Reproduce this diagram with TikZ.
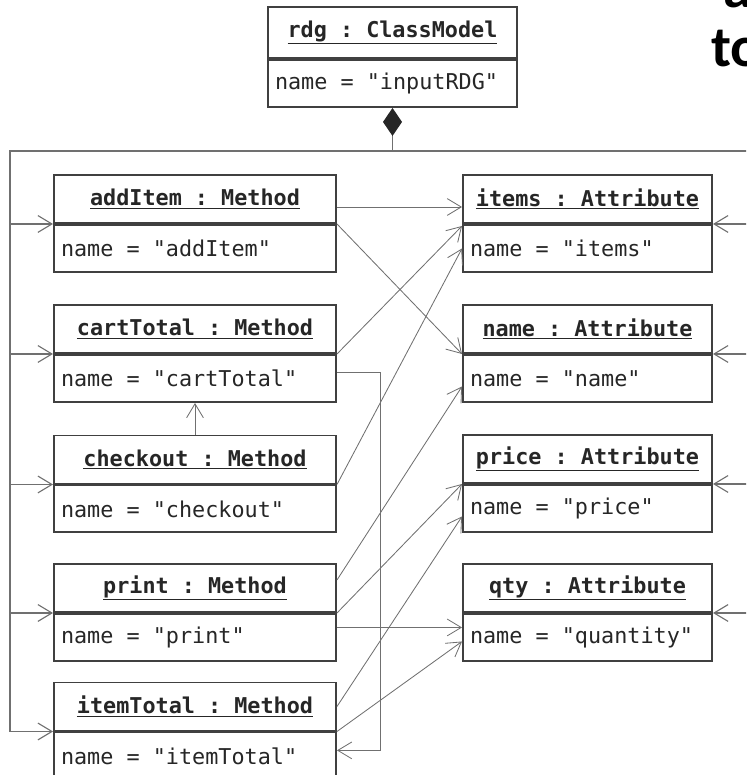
\documentclass[tikz,border=0pt]{standalone}
\usepackage{fontspec}
\setmonofont{DejaVu Sans Mono}
\newfontfamily\slidefont{Carlito}
\usetikzlibrary{positioning,arrows.meta}
\definecolor{boxline}{HTML}{404040}
\definecolor{wire}{HTML}{707070}
\definecolor{ink}{HTML}{262626}
\begin{document}
\begin{tikzpicture}[>={Straight Barb[length=3.5mm,width=4.2mm]}]
  \tikzstyle{objhead}=[draw=boxline,line width=1.4pt,fill=white,inner xsep=1.75mm,minimum height=1.2cm,text=ink,font=\ttfamily\bfseries\fontsize{15.5}{18}\selectfont]
  \tikzstyle{objbody}=[draw=boxline,line width=1.4pt,fill=white,inner xsep=1.75mm,minimum height=1.175cm,text=ink,font=\ttfamily\fontsize{15.5}{18}\selectfont]
  \tikzstyle{conn}=[draw=wire,line width=0.6pt,->]
  \tikzstyle{bus}=[draw=wire,line width=0.8pt]
  \def\xm{4.875}	% x of method boxes
  \def\xa{14.6875}	% x of attribute boxes
  \def\mw{7.05cm}	% width of method boxes
  \def\aw{6.225cm}	% width of attribute boxes
  \def\mname#1{\makebox[6.7cm][l]{#1}}	% left aligned slot, methods
  \def\aname#1{\makebox[5.875cm][l]{#1}}	% left aligned slot, attributes
  \useasboundingbox (0,0) rectangle (18.65,-19.375);
  \clip (0,0) rectangle (18.65,-19.375);
  % model
  \node[objhead,minimum width=\aw,minimum height=1.275cm] (rdg) at (9.8125,-0.8125) {\underline{rdg : ClassModel}};
  \node[objbody,below=0pt of rdg] (rdgB) {\aname{name = "inputRDG"}};
  % methods
  \node[objhead,minimum width=\mw] (mAdd) at (\xm,-4.975) {\underline{addItem : Method}};
  \node[objbody,below=0pt of mAdd] (mAddB) {\mname{name = "addItem"}};
  \node[objhead,minimum width=\mw] (mCart) at (\xm,-8.225) {\underline{cartTotal : Method}};
  \node[objbody,below=0pt of mCart] (mCartB) {\mname{name = "cartTotal"}};
  \node[objhead,minimum width=\mw] (mCheck) at (\xm,-11.4875) {\underline{checkout : Method}};
  \node[objbody,below=0pt of mCheck] (mCheckB) {\mname{name = "checkout"}};
  \node[objhead,minimum width=\mw] (mPrint) at (\xm,-14.7) {\underline{print : Method}};
  \node[objbody,below=0pt of mPrint] (mPrintB) {\mname{name = "print"}};
  \node[objhead,minimum width=\mw] (mItem) at (\xm,-17.6625) {\underline{itemTotal : Method}};
  \node[objbody,below=0pt of mItem] (mItemB) {\mname{name = "itemTotal"}};
  % attributes
  \node[objhead,minimum width=\aw] (aItems) at (\xa,-4.975) {\underline{items : Attribute}};
  \node[objbody,below=0pt of aItems] (aItemsB) {\aname{name = "items"}};
  \node[objhead,minimum width=\aw] (aName) at (\xa,-8.225) {\underline{name : Attribute}};
  \node[objbody,below=0pt of aName] (aNameB) {\aname{name = "name"}};
  \node[objhead,minimum width=\aw] (aPrice) at (\xa,-11.475) {\underline{price : Attribute}};
  \node[objbody,below=0pt of aPrice] (aPriceB) {\aname{name = "price"}};
  \node[objhead,minimum width=\aw] (aQty) at (\xa,-14.7) {\underline{qty : Attribute}};
  \node[objbody,below=0pt of aQty] (aQtyB) {\aname{name = "quantity"}};
  % slide title, cut off
  \node[anchor=base west,inner sep=0,font=\slidefont\bfseries\fontsize{41}{49}\selectfont] (ta) at (18.075,-0.2) {a};
  \node[anchor=base west,inner sep=0,font=\slidefont\bfseries\fontsize{41}{49}\selectfont] (tto) at (17.775,-1.675) {to};
  % composition
  \coordinate (busL) at (0.25,-3.775);
  \coordinate (busR) at (18.9,-3.775);
  \draw[bus,{Diamond[length=7mm,width=4.75mm,color=ink]}-] (rdgB.south) -- (rdgB.south |- busL);
  \draw[bus,->] (busR) -- (busL) |- (mItem.south west);
  \foreach \m in {mAdd,mCart,mCheck,mPrint}
    \draw[bus,->] (busL |- \m.south west) -- (\m.south west);
  \foreach \a in {aItems,aName,aPrice,aQty}
    \draw[bus,->] (busR |- \a.south east) -- (\a.south east);
  % references
  \draw[conn] ([yshift=-2mm]mAdd.east) -- ([yshift=-2mm]aItems.west);
  \draw[conn] (mAdd.south east) -- (aName.south west);
  \draw[conn] (mCart.south east) -- ([yshift=-0.5mm]aItems.south west);
  \draw[conn] ([yshift=1.5mm]mCartB.east) -- ++(1.075,0) |- ([yshift=1.4mm]mItemB.east);
  \draw[conn] (mCheck.north) -- (mCartB.south);
  \draw[conn] (mCheck.south east) -- (aItemsB.west);
  \draw[conn] ([yshift=2mm]mPrint.east) -- ([yshift=-2mm]aNameB.west);
  \draw[conn] (mPrint.south east) -- (aPrice.south west);
  \draw[conn] ([yshift=2.5mm]mPrintB.east) -- ([yshift=2.5mm]aQtyB.west);
  \draw[conn] (mItem.east) -- ([yshift=-2mm]aPriceB.west);
  \draw[conn] (mItem.south east) -- ([yshift=-1mm]aQtyB.west);
\end{tikzpicture}
\end{document}
